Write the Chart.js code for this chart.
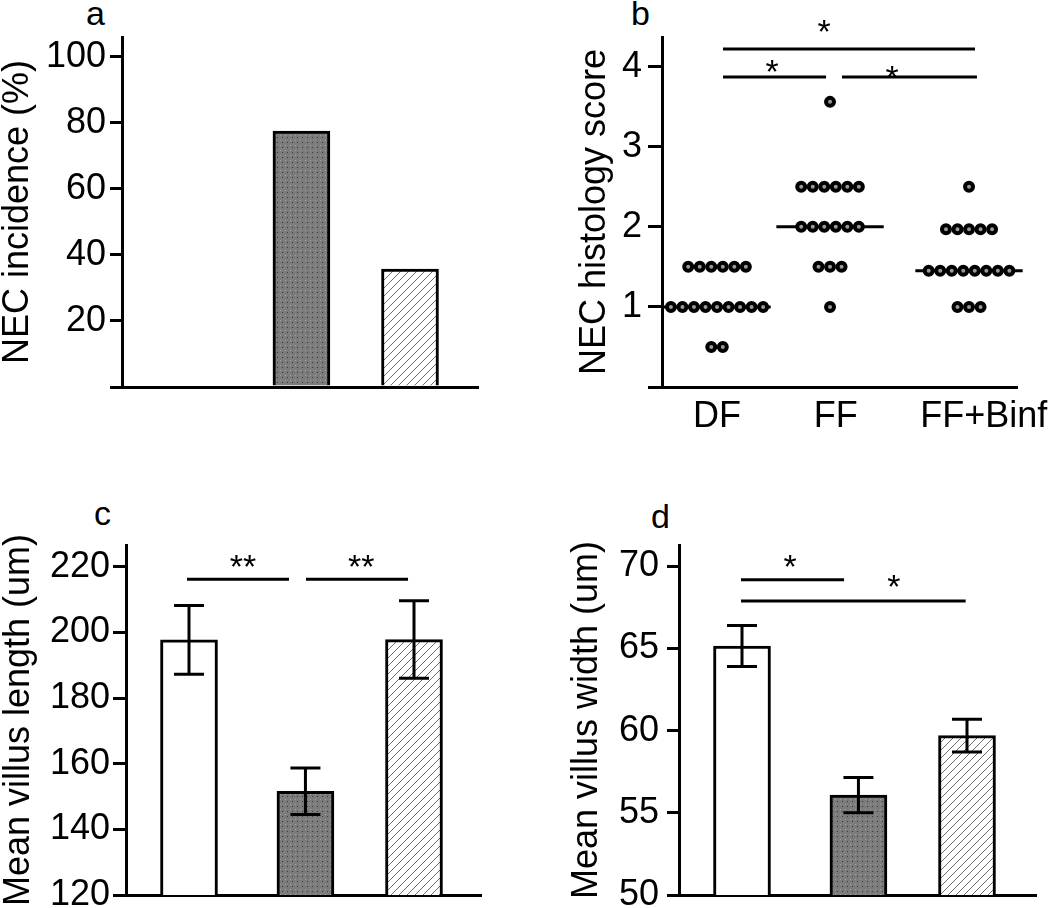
<!DOCTYPE html>
<html>
<head>
<meta charset="utf-8">
<script src="https://cdn.jsdelivr.net/npm/chart.js@4.4.1/dist/chart.umd.min.js"></script>
<style>
  html, body { margin: 0; padding: 0; background: #fff; }
  body { width: 1050px; height: 908px; position: relative; overflow: hidden;
         font-family: "Liberation Sans", Arial, Helvetica, sans-serif; }
  canvas { position: absolute; }
  .letter { position: absolute; font-size: 34px; line-height: 34px; color: #000; }
</style>
</head>
<body>
<div class="letter" style="left:86px;top:-4px">a</div>
<div class="letter" style="left:631px;top:-4px">b</div>
<div class="letter" style="left:94px;top:496px">c</div>
<div class="letter" style="left:651px;top:499px">d</div>
<canvas id="ca" width="525" height="454" style="left:0;top:0"></canvas>
<canvas id="cb" width="525" height="454" style="left:525px;top:0"></canvas>
<canvas id="cc" width="525" height="454" style="left:0;top:454px"></canvas>
<canvas id="cd" width="525" height="454" style="left:525px;top:454px"></canvas>
<script>
// ---------------- data ----------------
const groups = ['DF', 'FF', 'FF+Binf'];

// a: NEC incidence (%)
const necIncidence = [0, 77.5, 35.7];
const incidenceTicks = [0, 20, 40, 60, 80, 100];
const incidenceTickLabels = ['', '20', '40', '60', '80', '100'];

// b: NEC histology score (individual animals)
const histoDF = [0.5, 0.5, 1, 1, 1, 1, 1, 1, 1, 1, 1, 1.5, 1.5, 1.5, 1.5, 1.5, 1.5];
const histoFF = [1, 1.5, 1.5, 1.5, 2, 2, 2, 2, 2, 2, 2.5, 2.5, 2.5, 2.5, 2.5, 2.5, 3.56];
const histoFFBinf = [1, 1, 1, 1.45, 1.45, 1.45, 1.45, 1.45, 1.45, 1.45, 1.45, 1.97, 1.97, 1.97, 1.97, 1.97, 2.5];
const histoTicks = [0, 1, 2, 3, 4];
const histoTickLabels = ['', '1', '2', '3', '4'];

// c: mean villus length (um), mean +/- SEM
const lengthMean = [197.7, 151.6, 197.8];
const lengthSem = [10.5, 7.1, 11.8];
const lengthTicks = [120, 140, 160, 180, 200, 220];
const lengthTickLabels = ['120', '140', '160', '180', '200', '220'];

// d: mean villus width (um), mean +/- SEM
const widthMean = [65.15, 56.08, 59.7];
const widthSem = [1.25, 1.07, 1.0];
const widthTicks = [50, 55, 60, 65, 70];
const widthTickLabels = ['50', '55', '60', '65', '70'];

// ---------------- layout / style ----------------
const FONT = '"Liberation Sans", Arial, Helvetica, sans-serif';
Chart.defaults.font.family = FONT;
Chart.defaults.color = '#000';

const BAR_POS = [1, 2.035, 3];            // group positions on the bar panels
const DOT_POS = [1, 2.0, 3.23];           // group centres on the dot plot
const DOT_LABEL_POS = [1, 2.05, 3.36];    // x label positions on the dot plot
const DOT_STEP = 0.102;                   // horizontal spacing of tied dots
const MEDIAN_HALF = 0.475;

// significance brackets (axis units)
const sigB = [
  { x1: 1.053, x2: 3.283, y: 4.22, tx: 1.947, ty: 4.54, text: '*' },
  { x1: 1.053, x2: 1.965, y: 3.87, tx: 1.487, ty: 4.04, text: '*' },
  { x1: 2.106, x2: 3.30,  y: 3.87, tx: 2.549, ty: 3.96, text: '*' }
];
const sigC = [
  { x1: 0.982, x2: 1.889, y: 216.2, tx: 1.48, ty: 222.6, text: '**' },
  { x1: 2.04,  x2: 2.947, y: 216.2, tx: 2.53, ty: 222.6, text: '**' }
];
const sigD = [
  { x1: 0.991, x2: 1.907, y: 69.19, tx: 1.427, ty: 70.49, text: '*' },
  { x1: 0.991, x2: 2.988, y: 67.89, tx: 2.351, ty: 69.27, text: '*' }
];

function dotPattern() {
  const c = document.createElement('canvas'); c.width = 5; c.height = 5;
  const g = c.getContext('2d');
  g.fillStyle = '#7c7c7c'; g.fillRect(0, 0, 5, 5);
  g.fillStyle = '#3a3a3a'; g.fillRect(2, 2, 1, 1);
  g.fillStyle = '#a2a2a2'; g.fillRect(0, 0, 1, 1);
  return g.createPattern(c, 'repeat');
}
function hatchPattern() {
  const s = 8;
  const c = document.createElement('canvas'); c.width = s; c.height = s;
  const g = c.getContext('2d');
  g.fillStyle = '#fff'; g.fillRect(0, 0, s, s);
  g.strokeStyle = '#6e6e6e'; g.lineWidth = 1;
  g.beginPath();
  g.moveTo(0, s); g.lineTo(s, 0);
  g.moveTo(-1, 1); g.lineTo(1, -1);
  g.moveTo(s - 1, s + 1); g.lineTo(s + 1, s - 1);
  g.stroke();
  return g.createPattern(c, 'repeat');
}
const FILLS = ['#ffffff', dotPattern(), hatchPattern()];

const annotPlugin = {
  id: 'annot',
  afterDatasetsDraw(chart, args, opts) {
    const { ctx } = chart;
    const x = chart.scales.x, y = chart.scales.y;
    ctx.save();
    ctx.strokeStyle = '#000';
    ctx.fillStyle = '#000';
    ctx.lineWidth = 3;
    ctx.lineCap = 'butt';
    if (opts.err) {
      const cap = 15;
      opts.err.mean.forEach((m, i) => {
        const px = x.getPixelForValue(opts.err.pos[i]);
        const top = y.getPixelForValue(m + opts.err.sem[i]);
        const bot = y.getPixelForValue(m - opts.err.sem[i]);
        ctx.beginPath();
        ctx.moveTo(px, top); ctx.lineTo(px, bot);
        ctx.moveTo(px - cap, top); ctx.lineTo(px + cap, top);
        ctx.moveTo(px - cap, bot); ctx.lineTo(px + cap, bot);
        ctx.stroke();
      });
    }
    const fs = 34;
    ctx.font = fs + 'px ' + FONT;
    ctx.textAlign = 'center';
    ctx.textBaseline = 'alphabetic';
    (opts.sig || []).forEach(s => {
      const py = y.getPixelForValue(s.y);
      ctx.beginPath();
      ctx.moveTo(x.getPixelForValue(s.x1), py);
      ctx.lineTo(x.getPixelForValue(s.x2), py);
      ctx.stroke();
      ctx.fillText(s.text, x.getPixelForValue(s.tx), y.getPixelForValue(s.ty) + 0.573 * fs);
    });
    ctx.restore();
  }
};

function zeroPad(s) { s.paddingLeft = 0; s.paddingRight = 0; s.paddingTop = 0; s.paddingBottom = 0; }

function yScale(o) {
  return {
    type: 'linear', position: 'left', min: o.min, max: o.max,
    afterBuildTicks: s => { s.ticks = o.ticks.map(v => ({ value: v })); },
    ticks: { autoSkip: false, callback: (v, i) => o.labels[i], font: { size: 36 }, padding: o.pad, color: '#000' },
    grid: { drawOnChartArea: false, drawTicks: true, tickLength: o.tl, tickWidth: 3, lineWidth: 3, color: '#000', tickColor: '#000' },
    border: { display: true, color: '#000', width: 3 },
    title: { display: true, text: o.title, color: '#000', font: { size: 36, lineHeight: 1 }, padding: { top: o.tpad, bottom: 0 } },
    afterFit: s => { s.width = o.width; zeroPad(s); }
  };
}
function xScale(o) {
  const sc = {
    type: 'linear', position: 'bottom', min: o.min, max: o.max, offset: false,
    grid: { display: false, drawTicks: false, offset: false },
    border: { display: true, color: '#000', width: 3 },
    ticks: { display: false },
    afterFit: s => { s.height = o.height; zeroPad(s); }
  };
  if (o.labels) {
    sc.afterBuildTicks = s => { s.ticks = o.labelPos.map(v => ({ value: v })); };
    sc.ticks = { display: true, autoSkip: false, maxRotation: 0, minRotation: 0,
                 callback: (v, i) => o.labels[i], font: { size: 36 }, padding: o.pad, color: '#000' };
  }
  return sc;
}
const common = {
  responsive: false, animation: false, events: [],
  plugins: { legend: { display: false }, tooltip: { enabled: false } }
};

function barChart(id, vals, cfg) {
  return new Chart(document.getElementById(id), {
    type: 'bar',
    data: {
      datasets: [{
        data: vals.map((v, i) => ({ x: BAR_POS[i], y: v })),
        backgroundColor: FILLS, borderColor: '#000', borderWidth: 3,
        borderSkipped: 'bottom', barThickness: 57
      }]
    },
    options: Object.assign({}, common, {
      layout: { padding: { left: 0, top: cfg.top, right: cfg.right, bottom: 0 } },
      scales: { x: xScale(cfg.x), y: yScale(cfg.y) },
      plugins: Object.assign({}, common.plugins, { annot: { err: cfg.err, sig: cfg.sig } })
    }),
    plugins: [annotPlugin]
  });
}

// ---- panel a ----
barChart('ca', necIncidence, {
  top: 37, right: 47,
  x: { min: 0.44, max: 0.44 + 356 / 112.5, height: 67 },
  y: { min: 0, max: 106, ticks: incidenceTicks, labels: incidenceTickLabels, pad: 4, tl: 12,
       title: 'NEC incidence (%)', tpad: 0.5, width: 122 },
  sig: []
});

// ---- panel b ----
function swarm(values, center) {
  const rows = new Map();
  values.forEach(v => rows.set(v, (rows.get(v) || 0) + 1));
  const pts = [];
  rows.forEach((n, v) => { for (let k = 0; k < n; k++) pts.push({ x: center + (k - (n - 1) / 2) * DOT_STEP, y: v }); });
  return pts;
}
function median(a) {
  const s = [...a].sort((p, q) => p - q), m = s.length >> 1;
  return s.length % 2 ? s[m] : (s[m - 1] + s[m]) / 2;
}
const histoSets = [histoDF, histoFF, histoFFBinf];
const dotData = [].concat(...histoSets.map((vals, i) => swarm(vals, DOT_POS[i])));
const medianSets = histoSets.map((vals, i) => {
  const md = median(vals);
  return { data: [{ x: DOT_POS[i] - MEDIAN_HALF, y: md }, { x: DOT_POS[i] + MEDIAN_HALF, y: md }],
           showLine: true, borderColor: '#000', borderWidth: 3, pointRadius: 0, clip: false, order: 1 };
});
new Chart(document.getElementById('cb'), {
  type: 'scatter',
  data: {
    datasets: [{
      data: dotData, pointRadius: 4, pointBorderWidth: 4, pointStyle: 'circle',
      backgroundColor: '#9a9a9a', borderColor: '#000', clip: false, order: 0
    }].concat(medianSets)
  },
  options: Object.assign({}, common, {
    layout: { padding: { left: 0, top: 37, right: 33, bottom: 0 } },
    scales: {
      x: xScale({ min: 0.513, max: 0.513 + 355 / 113, height: 67, labels: groups, labelPos: DOT_LABEL_POS, pad: 8 }),
      y: yScale({ min: 0, max: 4.37, ticks: histoTicks, labels: histoTickLabels, pad: 6, tl: 14,
                  title: 'NEC histology score', tpad: 52.5, width: 137 })
    },
    plugins: Object.assign({}, common.plugins, { annot: { sig: sigB } })
  }),
  plugins: [annotPlugin]
});

// ---- panel c ----
barChart('cc', lengthMean, {
  top: 91, right: 44,
  x: { min: 0.44, max: 0.44 + 355 / 112.5, height: 13 },
  y: { min: 120, max: 226.6, ticks: lengthTicks, labels: lengthTickLabels, pad: 3, tl: 13,
       title: 'Mean villus length (um)', tpad: 1, width: 126 },
  err: { mean: lengthMean, sem: lengthSem, pos: BAR_POS },
  sig: sigC
});

// ---- panel d ----
barChart('cd', widthMean, {
  top: 91, right: 14,
  x: { min: 0.44, max: 0.44 + 357 / 112.5, height: 13 },
  y: { min: 50, max: 71.3, ticks: widthTicks, labels: widthTickLabels, pad: 8, tl: 12,
       title: 'Mean villus width (um)', tpad: 44, width: 154 },
  err: { mean: widthMean, sem: widthSem, pos: BAR_POS },
  sig: sigD
});
</script>
</body>
</html>
